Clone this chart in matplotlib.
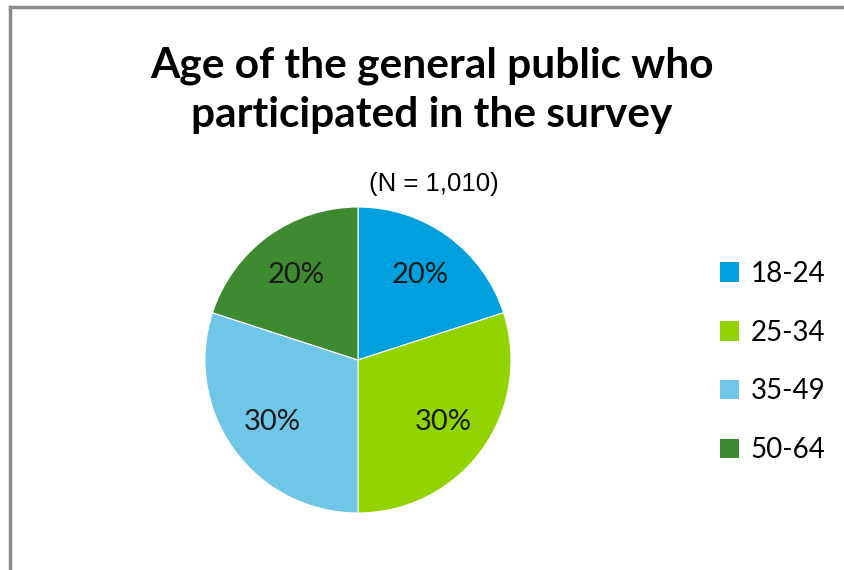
import matplotlib.pyplot as plt
from matplotlib.lines import Line2D
from matplotlib.patches import Patch

# age groups and their share of respondents
age_groups = ['18-24', '25-34', '35-49', '50-64']
shares = [20, 30, 30, 20]
colors = ['#00A0DE', '#92D400', '#70C6E6', '#3E8A31']

title = 'Age of the general public who\nparticipated in the survey'
subtitle = '(N = 1,010)'

W, H = 844, 570
fig = plt.figure(figsize=(W / 100, H / 100), dpi=100)

# chart frame: grey line on top and left
fig.add_artist(Line2D([10 / W, 10 / W], [0, 1 - 7 / H], color='#8c8c8c', lw=2.5,
                      transform=fig.transFigure))
fig.add_artist(Line2D([10 / W, 1], [1 - 7 / H, 1 - 7 / H], color='#8c8c8c', lw=2.5,
                      transform=fig.transFigure))

fig.text(432 / W, 1 - 90 / H, title, ha='center', va='center', fontsize=30.5,
         fontweight='bold', family='Lato', linespacing=1.35)
fig.text(434 / W, 1 - 184 / H, subtitle, ha='center', va='center', fontsize=18.5,
         family='Liberation Sans')

cx, cy, r = 358, 360, 153
ax = fig.add_axes([(cx - r) / W, (H - cy - r) / H, 2 * r / W, 2 * r / H])
wedges, texts, autotexts = ax.pie(
    shares, colors=colors, startangle=90, counterclock=False,
    autopct='%d%%', pctdistance=0.69,
    wedgeprops=dict(edgecolor='white', linewidth=0.8),
    textprops=dict(fontsize=21, family='Lato', color='#1a1a1a'))
ax.set_xlim(-1, 1)
ax.set_ylim(-1, 1)
ax.set_aspect('equal')

handles = [Patch(facecolor=c, edgecolor='none') for c in colors]
fig.legend(handles, age_groups, loc='upper left', bbox_to_anchor=(706 / W, 1 - 247 / H),
           frameon=False, prop=dict(family='Lato', size=20),
           handlelength=0.7, handleheight=0.7, handletextpad=0.4,
           labelspacing=1.18, borderpad=0)

fig.savefig('out.png', dpi=100)
